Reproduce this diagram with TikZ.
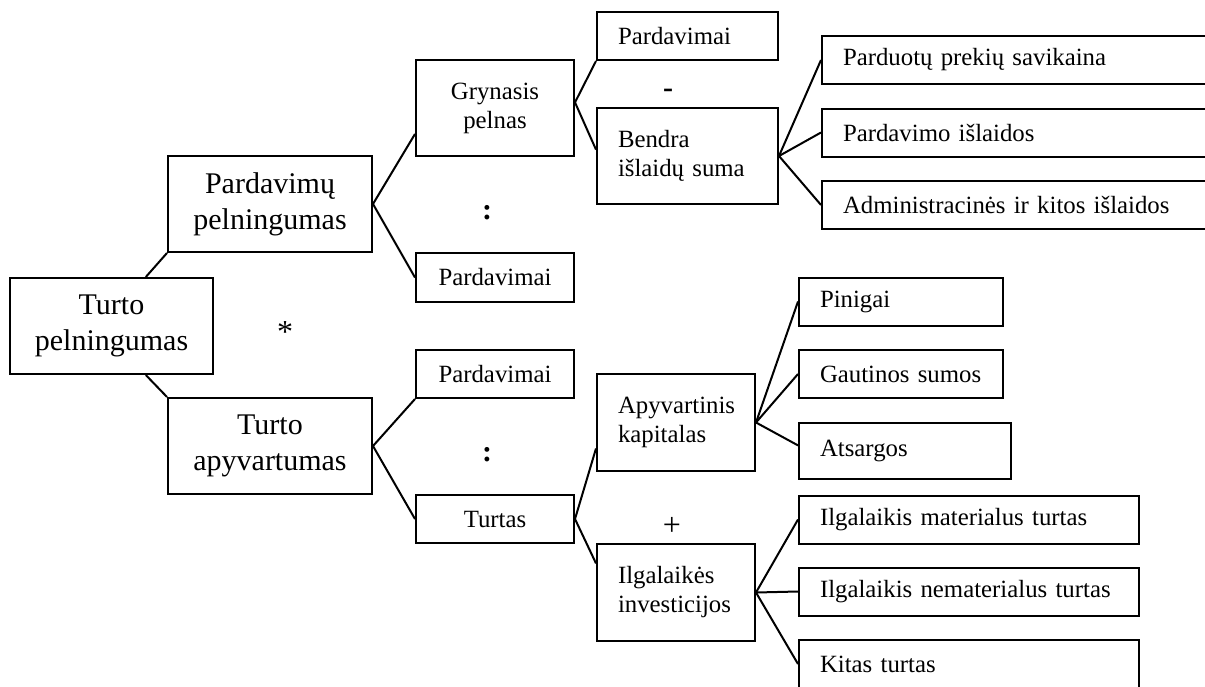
\documentclass[tikz,border=0pt]{standalone}
\usepackage{fontspec}
\setmainfont{Liberation Serif}
\usepackage{tikz}

\begin{document}
\begin{tikzpicture}[
    x=0.5pt, y=-0.5pt,
    bigbox/.style={rectangle, draw, line width=1pt, minimum width=102pt, minimum height=48pt, align=center, font=\fontsize{15}{18}\selectfont},
    box/.style={rectangle, draw, line width=1pt, minimum width=79pt, minimum height=24pt, align=center, font=\fontsize{12.4}{14.5}\selectfont},
    leftbox/.style={rectangle, draw, line width=1pt, inner xsep=10.5pt, minimum height=24pt, align=left, font=\fontsize{12.4}{14.5}\selectfont},
    link/.style={line width=1pt},
    sign/.style={font=\fontsize{16}{18}\selectfont}
]
    \useasboundingbox (0,0) rectangle (1205,686);

    % Root
    \node[bigbox, minimum width=101.5pt] (tp) at (111.5,326) {Turto\\pelningumas};

    % Two factors
    \node[bigbox] (pp) at (270,204) {Pardavimų\\pelningumas};
    \node[bigbox] (ta) at (270,446) {Turto\\apyvartumas};

    % Third level
    \node[box, minimum height=48pt] (gp) at (495,108) {Grynasis\\pelnas};
    \node[box, minimum height=24.5pt] (pard2) at (495,277.5) {Pardavimai};
    \node[box] (pard3) at (495,374) {Pardavimai};
    \node[box] (turtas) at (495,519) {Turtas};

    % Fourth level
    \node[leftbox, text width=69.5pt] (pard1) at (687.5,36) {Pardavimai};
    \node[leftbox, text width=69.5pt, minimum height=48pt] (bis) at (687.5,156) {Bendra\\išlaidų suma};
    \node[leftbox, text width=58pt, minimum height=48.5pt] (ak) at (676,422.5) {Apyvartinis\\kapitalas};
    \node[leftbox, text width=58pt, minimum height=48.5pt] (ii) at (676,592.5) {Ilgalaikės\\investicijos};

    % Expenses (cut at the right edge)
    \node[leftbox, text width=178pt] (pps) at (1021,60) {Parduotų prekių savikaina};
    \node[leftbox, text width=178pt] (pi) at (1021,132.5) {Pardavimo išlaidos};
    \node[leftbox, text width=178pt] (adm) at (1021,205) {Administracinės ir kitos išlaidos};

    % Assets
    \node[leftbox, text width=81pt] (pin) at (901,301.5) {Pinigai};
    \node[leftbox, text width=81pt] (gs) at (901,374) {Gautinos sumos};
    \node[leftbox, text width=85pt, minimum height=28pt] (ats) at (905,451) {Atsargos};
    \node[leftbox, text width=149pt] (imt) at (969,519.5) {Ilgalaikis materialus turtas};
    \node[leftbox, text width=149pt] (int) at (969,591.5) {Ilgalaikis nematerialus turtas};
    \node[leftbox, text width=149pt] (kt) at (969,664) {Kitas turtas};

    % Operators
    \node[sign] (times) at (285,332) {*};
    \node[font=\bfseries\fontsize{15}{18}\selectfont] (minus) at (668,93) {-};
    \node[font=\bfseries\fontsize{15}{18}\selectfont] (div1) at (487,213) {:};
    \node[font=\bfseries\fontsize{15}{18}\selectfont] (div2) at (487,455) {:};
    \node[sign] (plus) at (672,526) {+};

    % Connectors
    \draw[link] (tp.55) -- (pp.south west);
    \draw[link] (tp.-55) -- (ta.north west);
    \draw[link] (pp.east) -- (gp.198);
    \draw[link] (pp.east) -- (pard2.west);
    \draw[link] (ta.east) -- (pard3.south west);
    \draw[link] (ta.east) -- (turtas.west);
    \draw[link] (gp.4) -- (pard1.south west);
    \draw[link] (gp.4) -- (bis.176);
    \draw[link] (bis.east) -- (pps.west);
    \draw[link] (bis.east) -- (pi.west);
    \draw[link] (bis.east) -- (adm.west);
    \draw[link] (turtas.east) -- (ak.198);
    \draw[link] (turtas.east) -- (ii.160);
    \draw[link] (ak.east) -- (pin.west);
    \draw[link] (ak.east) -- (gs.west);
    \draw[link] (ak.east) -- (ats.177);
    \draw[link] (ii.east) -- (imt.west);
    \draw[link] (ii.east) -- (int.west);
    \draw[link] (ii.east) -- (kt.west);
\end{tikzpicture}
\end{document}
